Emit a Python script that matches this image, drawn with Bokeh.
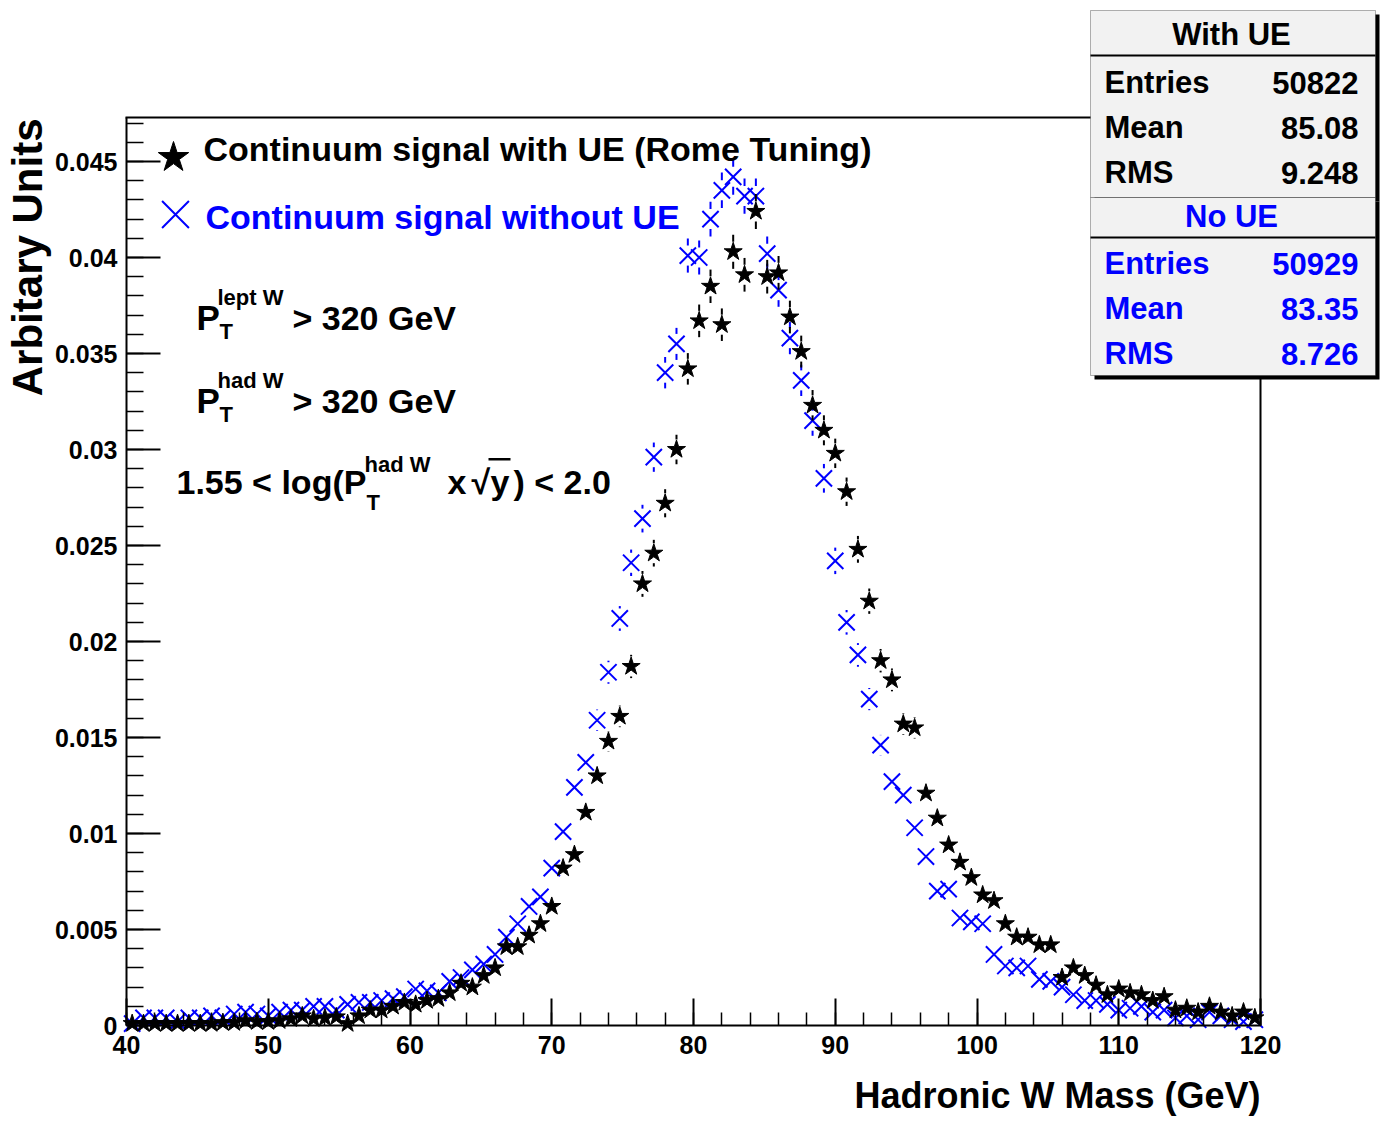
import math
from bokeh.plotting import figure
from bokeh.models import (Range1d, SingleIntervalTicker, CustomJSTickFormatter, Label,
                          BoxAnnotation, ColumnDataSource)
from bokeh.embed import file_html
from bokeh.resources import INLINE

# ---------------- data ----------------
BIN_LO, BIN_HI, NBINS = 40.0, 120.0, 100

with_ue = [
    0.0001, 0.0001, 0.0001, 0.0001, 0.0001, 0.0001, 0.0001, 0.0001, 0.00015, 0.00015,
    0.00025, 0.0002, 0.0002, 0.00025, 0.00035, 0.0005, 0.00035, 0.0004, 0.00045, 0.0001,
    0.0005, 0.0008, 0.0008, 0.0010, 0.0012, 0.0011, 0.0013, 0.0014, 0.0017, 0.0022,
    0.0020, 0.0026, 0.0030, 0.0041, 0.0041, 0.0047, 0.0053, 0.0062, 0.0082, 0.0089,
    0.0111, 0.0130, 0.0148, 0.0161, 0.0187, 0.0230, 0.0246, 0.0272, 0.0300, 0.0342,
    0.0367, 0.0385, 0.0365, 0.0403, 0.0391, 0.0424, 0.0390, 0.0392, 0.0369, 0.0351,
    0.0323, 0.0310, 0.0298, 0.0278, 0.0248, 0.0221, 0.0190, 0.0180, 0.0157, 0.0155,
    0.0121, 0.0108, 0.0094, 0.0085, 0.0077, 0.0068, 0.0065, 0.0053, 0.0046, 0.0046,
    0.0042, 0.0042, 0.0025, 0.0030, 0.0026, 0.0021, 0.0016, 0.0019, 0.0017, 0.0016,
    0.0013, 0.0015, 0.0008, 0.0009, 0.0007, 0.0010, 0.0007, 0.0005, 0.0007, 0.0004,
]

no_ue = [
    0.0001, 0.0004, 0.0004, 0.0004, 0.0002, 0.0004, 0.0004, 0.0005, 0.0004, 0.0006,
    0.0007, 0.0006, 0.0005, 0.0007, 0.0008, 0.0008, 0.0010, 0.0010, 0.0008, 0.0011,
    0.0012, 0.0012, 0.0013, 0.0014, 0.0015, 0.0019, 0.0018, 0.0017, 0.0023, 0.0025,
    0.0029, 0.0032, 0.0037, 0.0046, 0.0053, 0.0062, 0.0067, 0.0082, 0.0101, 0.0124,
    0.0137, 0.0159, 0.0184, 0.0212, 0.0241, 0.0264, 0.0296, 0.0340, 0.0355, 0.0401,
    0.0400, 0.0420, 0.0435, 0.0442, 0.0432, 0.0432, 0.0402, 0.0383, 0.0358, 0.0336,
    0.0315, 0.0285, 0.0242, 0.0210, 0.0193, 0.0170, 0.0146, 0.0127, 0.0120, 0.0103,
    0.0088, 0.0070, 0.0071, 0.0056, 0.0054, 0.0053, 0.0037, 0.0031, 0.0030, 0.0031,
    0.0024, 0.0023, 0.0020, 0.0016, 0.0013, 0.0013, 0.0011, 0.0008, 0.0009, 0.0010,
    0.0007, 0.0008, 0.0004, 0.0005, 0.0003, 0.0007, 0.0005, 0.0003, 0.0002, 0.0003,
]

entries_ue, mean_ue, rms_ue = "50822", "85.08", "9.248"
entries_no, mean_no, rms_no = "50929", "83.35", "8.726"
ENTRIES_UE, ENTRIES_NO = 50822, 50929

legend_ue = "Continuum signal with UE (Rome Tuning)"
legend_no = "Continuum signal without UE"
x_title = "Hadronic W Mass (GeV)"
y_title = "Arbitary Units"

# ---------------- layout ----------------
W, H = 1385, 1132
FL, FR, FT, FB = 126, 1260, 117, 1025     # plot frame edges in canvas pixels
YMAX = (FB - FT) / 19200.0

FONT = "Liberation Sans"
BLUE = "#0000ff"


def dx(cx):
    return BIN_LO + (cx - FL) * (BIN_HI - BIN_LO) / (FR - FL)


def dy(cy):
    return (FB - cy) * YMAX / (FB - FT)


bw = (BIN_HI - BIN_LO) / NBINS
centers = [BIN_LO + bw * (i + 0.5) for i in range(NBINS)]

# the bokeh frame covers the whole canvas; axes are pinned at x=40 / y=0
p = figure(width=W, height=H, output_backend="svg", toolbar_location=None,
           x_range=Range1d(dx(0), dx(W)), y_range=Range1d(dy(H), dy(0)),
           min_border=0, min_border_left=0, min_border_right=0,
           min_border_top=0, min_border_bottom=0)
p.outline_line_color = None
p.xgrid.visible = False
p.ygrid.visible = False
p.background_fill_color = "white"
p.border_fill_color = "white"

for ax, interval, mj, mn, so in ((p.xaxis, 10, 27, 13, 10), (p.yaxis, 0.005, 34, 17, 9)):
    ax.ticker = SingleIntervalTicker(interval=interval, num_minor_ticks=5)
    ax.major_tick_in = mj
    ax.major_tick_out = 0
    ax.minor_tick_in = mn
    ax.minor_tick_out = 0
    ax.axis_line_width = 2
    ax.axis_line_color = "black"
    ax.major_tick_line_width = 2
    ax.minor_tick_line_width = 1.5
    ax.major_label_text_font = FONT
    ax.major_label_text_font_style = "bold"
    ax.major_label_text_font_size = "25px"
    ax.major_label_text_color = "black"
    ax.major_label_standoff = so

p.xaxis.fixed_location = 0.0
p.xaxis.bounds = (BIN_LO, BIN_HI)
p.yaxis.fixed_location = BIN_LO
p.yaxis.bounds = (0.0, YMAX)

p.yaxis.formatter = CustomJSTickFormatter(code="""
if (Math.abs(tick) < 1e-12) return "0";
return tick.toFixed(3).replace(/0+$/, "").replace(/\\.$/, "");
""")

# frame top / right lines
p.add_layout(BoxAnnotation(left=dx(FL - 1), right=dx(FR + 1), top=dy(FT - 1), bottom=dy(FT + 1),
                           fill_color="black", fill_alpha=1, line_color=None))
p.add_layout(BoxAnnotation(left=dx(FR - 1), right=dx(FR + 1), top=dy(FT - 1), bottom=dy(FB),
                           fill_color="black", fill_alpha=1, line_color=None))

# ---------------- error bars + markers ----------------
gap = 10 * YMAX / (FB - FT)


def err_segments(vals, entries):
    x0, y0, y1 = [], [], []
    for xc, v in zip(centers, vals):
        e = math.sqrt(v / entries)
        if e > gap:
            x0 += [xc, xc]
            y0 += [v + gap, v - gap]
            y1 += [v + e, v - e]
    return ColumnDataSource(dict(x=x0, y0=y0, y1=y1))


src_no = err_segments(no_ue, ENTRIES_NO)
src_ue = err_segments(with_ue, ENTRIES_UE)
p.segment(x0="x", x1="x", y0="y0", y1="y1", source=src_no, line_color=BLUE, line_width=2)
p.scatter(centers, no_ue, marker="x", size=23, line_color=BLUE, line_width=2)
p.segment(x0="x", x1="x", y0="y0", y1="y1", source=src_ue, line_color="black", line_width=2)
p.scatter(centers, with_ue, marker="star", size=19, fill_color="black", line_color="black")

# legend markers
p.scatter([dx(173)], [dy(157)], marker="star", size=32, fill_color="black", line_color="black")
p.scatter([dx(175)], [dy(214)], marker="x", size=38, line_color=BLUE, line_width=2)


def lab(text, cx, cy, size, color="black", align="left", angle=0.0, level="annotation"):
    # cy is the vertical centre of the capitals
    l = Label(x=dx(cx), y=dy(cy), text=text, text_font=FONT, text_font_style="bold",
              text_font_size=f"{size}px", text_color=color, text_align=align,
              text_baseline="middle", angle=angle, level=level)
    p.add_layout(l)
    return l


lab(legend_ue, 203, 148, 34)
lab(legend_no, 205, 216, 34, color=BLUE)

for cy, sup in ((317, "lept W"), (400, "had W")):
    lab("P", 196, cy, 35)
    lab(sup, 217, cy - 20, 22)
    lab("T", 219, cy + 14, 22)
    lab("> 320 GeV", 292, cy, 34)

lab("1.55 < log(P", 176, 481, 34)
lab("had W", 364, 464, 22)
lab("T", 366, 502, 22)
lab("x", 447, 481, 34)
lab("\u221a", 471, 481, 34)
lab("y", 490, 481, 34)
lab(") < 2.0", 513, 481, 34)
p.add_layout(BoxAnnotation(left=dx(488), right=dx(510), top=dy(457.5), bottom=dy(460),
                           fill_color="black", fill_alpha=1, line_color=None))

# axis titles
lab(x_title, 1260, 1095, 36, align="right")
lab(y_title, 27, 118, 42, align="right", angle=math.pi / 2)

# ---------------- stats boxes ----------------
for (t, b) in ((10, 197), (197, 375)):
    p.add_layout(BoxAnnotation(left=dx(1094), right=dx(1379), top=dy(t + 4), bottom=dy(b + 4),
                               fill_color="black", fill_alpha=1, line_color=None, level="overlay"))
for (t, b) in ((10, 197), (197, 375)):
    p.add_layout(BoxAnnotation(left=dx(1090), right=dx(1375), top=dy(t), bottom=dy(b),
                               fill_color="#f2f2f2", fill_alpha=1, line_color="black",
                               line_width=1, level="overlay"))
for yl in (55, 237):
    p.add_layout(BoxAnnotation(left=dx(1090), right=dx(1375), top=dy(yl - 1), bottom=dy(yl + 1),
                               fill_color="black", fill_alpha=1, line_color=None, level="overlay"))

lab("With UE", 1231, 34, 31, align="center", level="overlay")
for (name, val, yy) in (("Entries", entries_ue, 82), ("Mean", mean_ue, 127), ("RMS", rms_ue, 172)):
    lab(name, 1104, yy, 31, level="overlay")
    lab(val, 1358, yy, 31, align="right", level="overlay")
lab("No UE", 1231, 216, 31, color=BLUE, align="center", level="overlay")
for (name, val, yy) in (("Entries", entries_no, 263), ("Mean", mean_no, 308), ("RMS", rms_no, 353)):
    lab(name, 1104, yy, 31, color=BLUE, level="overlay")
    lab(val, 1358, yy, 31, color=BLUE, align="right", level="overlay")

open("out.html", "w").write(file_html(p, INLINE))
